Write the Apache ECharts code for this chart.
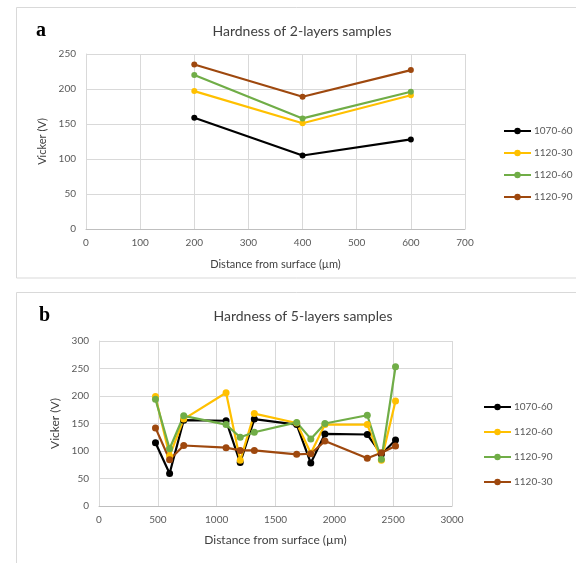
<!DOCTYPE html>
<html>
<head>
<meta charset="utf-8">
<script src="https://cdn.jsdelivr.net/npm/echarts@6/dist/echarts.min.js"></script>
<style>
html,body{margin:0;padding:0;background:#fff;}
#chart{width:576px;height:563px;}
</style>
</head>
<body>
<div id="chart"></div>
<script>
// ---- Panel a data (2-layers) ----
const distA = [200, 400, 600];
const a1070_60 = [159, 105, 128];
const a1120_30 = [197, 151, 191];
const a1120_60 = [220, 158, 196];
const a1120_90 = [235, 189, 227];

// ---- Panel b data (5-layers) ----
const distB = [480, 600, 720, 1080, 1200, 1320, 1680, 1800, 1920, 2280, 2400, 2520];
const b1070_60 = [115, 59, 156, 155, 79, 158, 148, 78, 131, 130, 94, 120];
const b1120_60 = [199, 91, 158, 206, 83, 168, 151, 96, 148, 148, 83, 191];
const b1120_90 = [194, 104, 164, 148, 125, 134, 152, 122, 150, 165, 85, 253];
const b1120_30 = [142, 84, 110, 106, 101, 101, 94, 95, 118, 87, 97, 109];

const titleA = 'Hardness of 2-layers samples';
const titleB = 'Hardness of 5-layers samples';
const xName = 'Distance from surface (\u00b5m)';
const yName = 'Vicker (V)';

const C = {black:'#000000', yellow:'#FFC000', green:'#70AD47', brown:'#9E480E'};
const FONT = 'Lato, "Open Sans", sans-serif';

function pairs(xs, ys){ return xs.map((x,i)=>[x, ys[i]]); }

function mkSeries(name, xs, ys, color, idx, sym){
  return {
    name: name, type: 'line', xAxisIndex: idx, yAxisIndex: idx,
    data: pairs(xs, ys), symbol: 'circle', symbolSize: sym,
    lineStyle: {color: color, width: 2.2}, itemStyle: {color: color},
    emphasis: {disabled: true}, animation: false
  };
}

function xAx(idx, max, interval, gap, fs){
  return {
    gridIndex: idx, type: 'value', min: 0, max: max, interval: interval,
    name: xName, nameLocation: 'middle', nameGap: gap,
    nameTextStyle: {color: '#404040', fontSize: fs, fontFamily: FONT},
    axisLine: {show: true, lineStyle: {color: '#bfbfbf'}},
    axisTick: {show: false},
    axisLabel: {color: '#595959', fontSize: 10, fontFamily: FONT, margin: 9, formatter: v => String(v)},
    splitLine: {show: true, lineStyle: {color: '#d9d9d9'}}
  };
}
function yAx(idx, max, interval, gap, fs){
  return {
    gridIndex: idx, type: 'value', min: 0, max: max, interval: interval,
    name: yName, nameLocation: 'middle', nameGap: gap, nameRotate: 90,
    nameTextStyle: {color: '#404040', fontSize: fs, fontFamily: FONT},
    axisLine: {show: true, lineStyle: {color: '#d9d9d9'}},
    axisTick: {show: false},
    axisLabel: {color: '#595959', fontSize: 10, fontFamily: FONT, margin: 10, formatter: v => String(v)},
    splitLine: {show: true, lineStyle: {color: '#d9d9d9'}}
  };
}

const namesA = ['a|1070-60','a|1120-30','a|1120-60','a|1120-90'];
const namesB = ['b|1070-60','b|1120-60','b|1120-90','b|1120-30'];

const option = {
  backgroundColor: '#ffffff',
  animation: false,
  title: [
    {text: titleA, left: 297, top: 19, textAlign: 'center',
     textStyle: {fontSize: 14, fontWeight: 'normal', color: '#404040', fontFamily: FONT}},
    {text: titleB, left: 298, top: 304, textAlign: 'center',
     textStyle: {fontSize: 14, fontWeight: 'normal', color: '#404040', fontFamily: FONT}},
    {text: 'a', left: 31, top: 16,
     textStyle: {fontSize: 20, fontWeight: 'bold', color: '#000', fontFamily: '"Liberation Serif", "DejaVu Serif", serif'}},
    {text: 'b', left: 34, top: 301,
     textStyle: {fontSize: 20, fontWeight: 'bold', color: '#000', fontFamily: '"Liberation Serif", "DejaVu Serif", serif'}}
  ],
  grid: [
    {left: 86, top: 54, width: 379, height: 175},
    {left: 99, top: 341, width: 353, height: 165}
  ],
  xAxis: [xAx(0, 700, 100, 30, 11), xAx(1, 3000, 500, 28, 12)],
  yAxis: [yAx(0, 250, 50, 34, 11), yAx(1, 300, 50, 35, 12)],
  legend: [
    {data: namesA, orient: 'vertical', left: 498, top: 120, itemWidth: 27, itemHeight: 8,
     itemGap: 10, selectedMode: false, formatter: n => n.split('|')[1],
     textStyle: {color: '#595959', fontSize: 10, fontFamily: FONT, lineHeight: 12, padding: [0,0,0,-2]}},
    {data: namesB, orient: 'vertical', left: 478, top: 396, itemWidth: 27, itemHeight: 8,
     itemGap: 13, selectedMode: false, formatter: n => n.split('|')[1],
     textStyle: {color: '#595959', fontSize: 10, fontFamily: FONT, lineHeight: 12, padding: [0,0,0,-2]}}
  ],
  graphic: [
    {type: 'rect', shape: {x: 16.5, y: 7.5, width: 620, height: 270.5},
     style: {fill: 'none', stroke: '#d9d9d9', lineWidth: 1}, silent: true, z: -10},
    {type: 'rect', shape: {x: 16.5, y: 292.5, width: 620, height: 300},
     style: {fill: 'none', stroke: '#d9d9d9', lineWidth: 1}, silent: true, z: -10}
  ],
  series: [
    mkSeries(namesA[0], distA, a1070_60, C.black, 0, 6),
    mkSeries(namesA[1], distA, a1120_30, C.yellow, 0, 6),
    mkSeries(namesA[2], distA, a1120_60, C.green, 0, 6),
    mkSeries(namesA[3], distA, a1120_90, C.brown, 0, 6),
    mkSeries(namesB[0], distB, b1070_60, C.black, 1, 7),
    mkSeries(namesB[1], distB, b1120_60, C.yellow, 1, 7),
    mkSeries(namesB[2], distB, b1120_90, C.green, 1, 7),
    mkSeries(namesB[3], distB, b1120_30, C.brown, 1, 7)
  ]
};

const chart = echarts.init(document.getElementById('chart'), null, {renderer: 'canvas'});
chart.setOption(option);
</script>
</body>
</html>
